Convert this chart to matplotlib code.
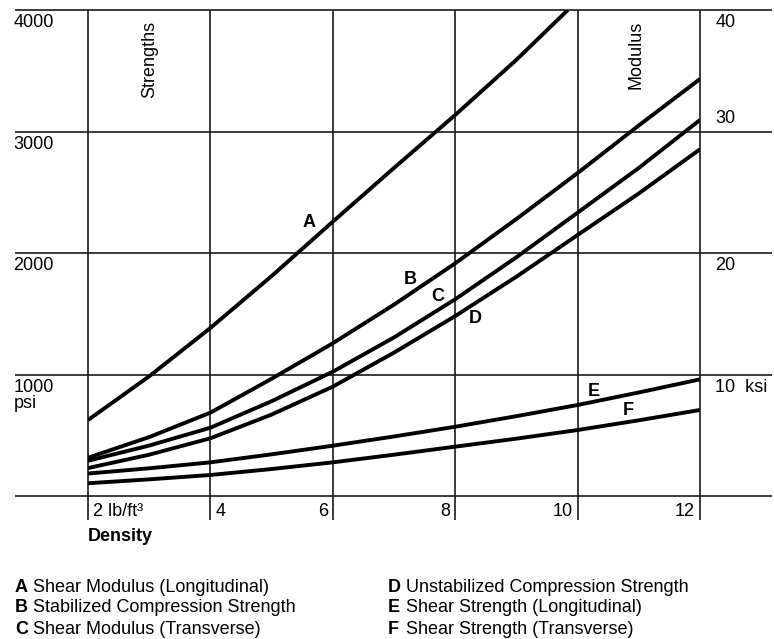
import matplotlib
matplotlib.use("Agg")
from matplotlib import pyplot as plt

plt.rcParams['font.family'] = ['Liberation Sans', 'DejaVu Sans']

# density, lb/ft3
dens = [2, 3, 4, 5, 6, 7, 8, 9, 10, 11, 12]
dens_a = [2, 3, 4, 5, 6, 7, 8, 9, 9.84]

# values (psi, modulus in the same scale x100)
curve_a = [625, 985, 1383, 1810, 2258, 2700, 3136, 3590, 4000]
curve_b = [315, 485, 686, 965, 1257, 1575, 1915, 2280, 2658, 3050, 3432]
curve_c = [290, 415, 562, 780, 1023, 1305, 1619, 1965, 2332, 2700, 3095]
curve_d = [230, 340, 475, 670, 900, 1180, 1481, 1805, 2148, 2490, 2854]
curve_e = [185, 228, 277, 343, 414, 490, 570, 657, 749, 852, 960]
curve_f = [105, 137, 173, 222, 277, 340, 406, 472, 543, 623, 708]

letters = ["A", "B", "C", "D", "E", "F"]
letter_pos = [(5.62, 2247), (7.26, 1778), (7.71, 1638), (8.32, 1465), (10.26, 864), (10.82, 700)]

psi_ticks = [1000, 2000, 3000, 4000]
psi_labels = ["1000", "2000", "3000", "4000"]
ksi_labels = ["10  ksi", "20", "30", "40"]
x_ticks = [2, 4, 6, 8, 10, 12]
x_labels = ["2 lb/ft\u00b3", "4", "6", "8", "10", "12"]

legend_left = ["Shear Modulus (Longitudinal)", "Stabilized Compression Strength", "Shear Modulus (Transverse)"]
legend_right = ["Unstabilized Compression Strength", "Shear Strength (Longitudinal)", "Shear Strength (Transverse)"]

fs = 13

fig = plt.figure(figsize=(7.74, 6.39), dpi=100)
ax = fig.add_axes([88/774, 1 - 496/639, 612/774, 486/639])
ax.set_xlim(2, 12)
ax.set_ylim(0, 4000)
ax.axis("off")

# grid
gc = "#1a1a1a"
ax.hlines([0] + psi_ticks, 0.81, 13.17, color=gc, lw=1.2, clip_on=False)
ax.vlines(x_ticks, -200, 4000, color=gc, lw=1.2, clip_on=False)

# curves
ax.plot(dens_a, curve_a, color="k", lw=2.8, solid_capstyle="butt", solid_joinstyle="round")
for vals in [curve_b, curve_c, curve_d, curve_e, curve_f]:
    ax.plot(dens, vals, color="k", lw=2.8, solid_capstyle="butt", solid_joinstyle="round")

for lab, (lx, ly) in zip(letters, letter_pos):
    ax.text(lx, ly, lab, fontsize=fs, fontweight="bold", ha="center", va="center")

# left axis labels
for v, s in zip(psi_ticks, psi_labels):
    ax.text(0.78, v - 35, s, fontsize=fs, ha="left", va="top", clip_on=False)
ax.text(0.78, 830, "psi", fontsize=fs, ha="left", va="top")

# right axis labels
for v, s in zip(psi_ticks, ksi_labels):
    if v == 3000:
        ax.text(12.25, v + 35, s, fontsize=fs, ha="left", va="bottom")
    else:
        ax.text(12.25, v - 35, s, fontsize=fs, ha="left", va="top")

ax.text(3.01, 3590, "Strengths", fontsize=fs, rotation=90, ha="center", va="center")
ax.text(10.96, 3630, "Modulus", fontsize=fs, rotation=90, ha="center", va="center")

# x labels
for xv, s in zip(x_ticks, x_labels):
    if xv <= 4:
        ax.text(xv + 0.08, -125, s, fontsize=fs, ha="left", va="center")
    else:
        ax.text(xv - 0.08, -125, s, fontsize=fs, ha="right", va="center")
ax.text(2.0, -335, "Density", fontsize=fs, fontweight="bold", ha="left", va="center")

# key
for i in range(3):
    yy = 1 - (587 + i * 21) / 639
    fig.text(15/774, yy, letters[i], fontsize=fs, fontweight="bold", va="center")
    fig.text(33/774, yy, legend_left[i], fontsize=fs, va="center")
    fig.text(388/774, yy, letters[i + 3], fontsize=fs, fontweight="bold", va="center")
    fig.text(406/774, yy, legend_right[i], fontsize=fs, va="center")

fig.savefig("out.png", dpi=100, facecolor="white")
